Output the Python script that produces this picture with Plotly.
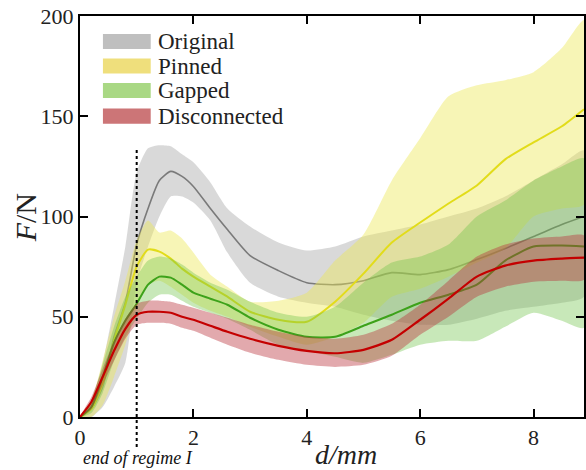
import plotly.graph_objects as go

# ---------------- data ----------------
X = [0, 0.2, 0.4, 0.6, 0.8, 1.0, 1.2, 1.4, 1.6, 1.8, 2.0, 2.3, 2.6, 3.0, 3.5,
     4.0, 4.5, 5.0, 5.5, 6.0, 6.5, 7.0, 7.5, 8.0, 8.5, 8.89]

original_mean = [0, 4, 15, 40, 57, 86, 104, 118, 122.5, 120, 115, 104, 93.5, 80.5, 73,
                 67, 66, 68, 72, 71, 73.5, 78.5, 84, 90, 96, 100]
original_upper = [0, 8, 27, 55, 85, 122, 134, 135.5, 135, 131, 127, 117, 104, 95, 87,
                  83, 85, 90, 93, 96, 100, 104, 110, 118, 126, 133]
original_lower = [0, 0, 5, 15, 27, 67, 85, 100, 110, 110, 107, 98, 82, 67, 60,
                  57, 55, 51, 48, 46, 46, 49, 53, 55, 57, 60]

pinned_mean = [0, 4, 17, 38, 56, 75, 83.5, 82.5, 79, 74, 70, 65, 60, 52.5, 48.5,
               47.5, 57.5, 71.5, 87, 97, 106.5, 115.5, 128.5, 137, 145, 153.5]
pinned_upper = [0, 8, 28, 50, 68, 88, 98, 92, 93, 89, 82, 71, 65, 57.5, 58,
                62, 78, 91, 118, 139, 160, 165.5, 168, 172, 184, 198]
pinned_lower = [0, 0, 6, 20, 36, 55, 66, 68, 65, 61, 57, 53, 50, 45, 40,
                36, 40, 47, 60, 64, 70, 77, 84, 100, 104, 106]

gapped_mean = [0, 5, 20, 37, 48, 56.5, 66, 70, 69.5, 66, 62, 59, 56, 49.5, 43.5,
               40, 40, 45.5, 51, 57, 61, 66, 78, 85, 85.5, 85]
gapped_upper = [0, 8, 26, 45, 60, 70, 78, 80, 79, 76, 72, 67, 63.5, 57.5, 52,
                50, 55, 67, 77, 80, 86, 100, 108, 118, 125, 129]
gapped_lower = [0, 2, 12, 28, 40, 49, 57, 61, 61, 58, 55, 52, 49, 43.5, 36,
                33, 30, 27, 31, 36, 38, 38, 45, 52, 48, 44.5]

disc_mean = [0, 7.5, 20, 33, 44, 51, 52.5, 52.5, 52, 50, 48.5, 45.5, 42.5, 39, 35.5,
             33, 31.8, 33.5, 38.5, 48.5, 59, 70, 75.5, 78, 79, 79.5]
disc_upper = [0, 10, 24, 38, 49, 56.5, 58, 58, 57.5, 56, 54.5, 52, 49.5, 46, 42.5,
              40, 39, 41, 46.5, 56, 68, 80, 86, 89, 90, 90.5]
disc_lower = [0, 4, 16, 28, 39, 46, 47, 47, 46.5, 44.5, 43, 39.5, 36, 32, 28.5,
              26, 25, 26, 30.5, 41, 50, 60, 65, 67.5, 68, 68.5]

series_names = ["Original", "Pinned", "Gapped", "Disconnected"]
x_ticks = [0, 2, 4, 6, 8]
y_ticks = [0, 50, 100, 150, 200]
regime_end = 1.0

# ---------------- styling ----------------
series = [
    (original_mean, original_upper, original_lower, "rgba(165,165,165,0.42)", "#7a7a7a", 1.6, "#bfbfbf"),
    (pinned_mean, pinned_upper, pinned_lower, "rgba(236,232,80,0.42)", "#e2dc1a", 2.0, "#efdf7c"),
    (gapped_mean, gapped_upper, gapped_lower, "rgba(110,195,70,0.38)", "#3da21a", 2.0, "#a9d884"),
    (disc_mean, disc_upper, disc_lower, "rgba(185,50,60,0.42)", "#c40000", 2.2, "#cc7577"),
]

fig = go.Figure()
for (m, up, lo, fillc, linec, lw, _), name in zip(series, series_names):
    fig.add_trace(go.Scatter(
        x=X + X[::-1], y=up + lo[::-1], mode="lines", fill="toself",
        fillcolor=fillc, line=dict(width=0, shape="spline", smoothing=0.6),
        hoverinfo="skip", name=name + " band"))
    fig.add_trace(go.Scatter(
        x=X, y=m, mode="lines", line=dict(color=linec, width=lw, shape="spline", smoothing=0.6),
        name=name))

FONT = "Liberation Serif, Times New Roman, serif"
fig.update_layout(
    width=586, height=470,
    margin=dict(l=80, r=0, t=16, b=53),
    plot_bgcolor="white", paper_bgcolor="white",
    showlegend=False,
    font=dict(family=FONT, size=22, color="#222222"),
)
axis_common = dict(ticks="inside", ticklen=8, tickwidth=1.5, tickcolor="black",
                   showline=True, linewidth=2, linecolor="black", mirror="ticks",
                   showgrid=False, zeroline=False,
                   tickfont=dict(family=FONT, size=22, color="#222222"))
fig.update_xaxes(range=[0, 8.89], tickvals=x_ticks, **axis_common)
fig.update_yaxes(range=[0, 200], tickvals=y_ticks, **axis_common)

# dotted "end of regime I" marker
fig.add_shape(type="line", xref="x", yref="paper", x0=regime_end, x1=regime_end,
              y0=0.666, y1=-0.075, line=dict(color="black", width=2, dash="dot"))

# manual legend
row_y = [0.9364, 0.8753, 0.8142, 0.7506]
for (s, name, yy) in zip(series, series_names, row_y):
    fig.add_shape(type="rect", xref="paper", yref="paper",
                  x0=0.0455, x1=0.1403, y0=yy - 0.019, y1=yy + 0.019,
                  fillcolor=s[6], line=dict(width=0))
    fig.add_annotation(xref="paper", yref="paper", x=0.150, y=yy, text=name,
                       showarrow=False, xanchor="left", yanchor="middle",
                       font=dict(family=FONT, size=23, color="#222222"))

# axis titles & note
fig.add_annotation(xref="paper", yref="paper", x=-0.1087, y=0.496, text="<i>F</i>/N",
                   textangle=-90, showarrow=False, xanchor="center", yanchor="middle",
                   font=dict(family=FONT, size=30, color="#222222"))
fig.add_annotation(xref="paper", yref="paper", x=0.527, y=-0.093, text="<i>d/mm</i>",
                   showarrow=False, xanchor="center", yanchor="middle",
                   font=dict(family=FONT, size=28, color="#222222"))
fig.add_annotation(xref="paper", yref="paper", x=0.002, y=-0.103, text="<i>end of regime I</i>",
                   showarrow=False, xanchor="left", yanchor="middle",
                   font=dict(family=FONT, size=18, color="#111111"))

fig.write_html("out.html")
